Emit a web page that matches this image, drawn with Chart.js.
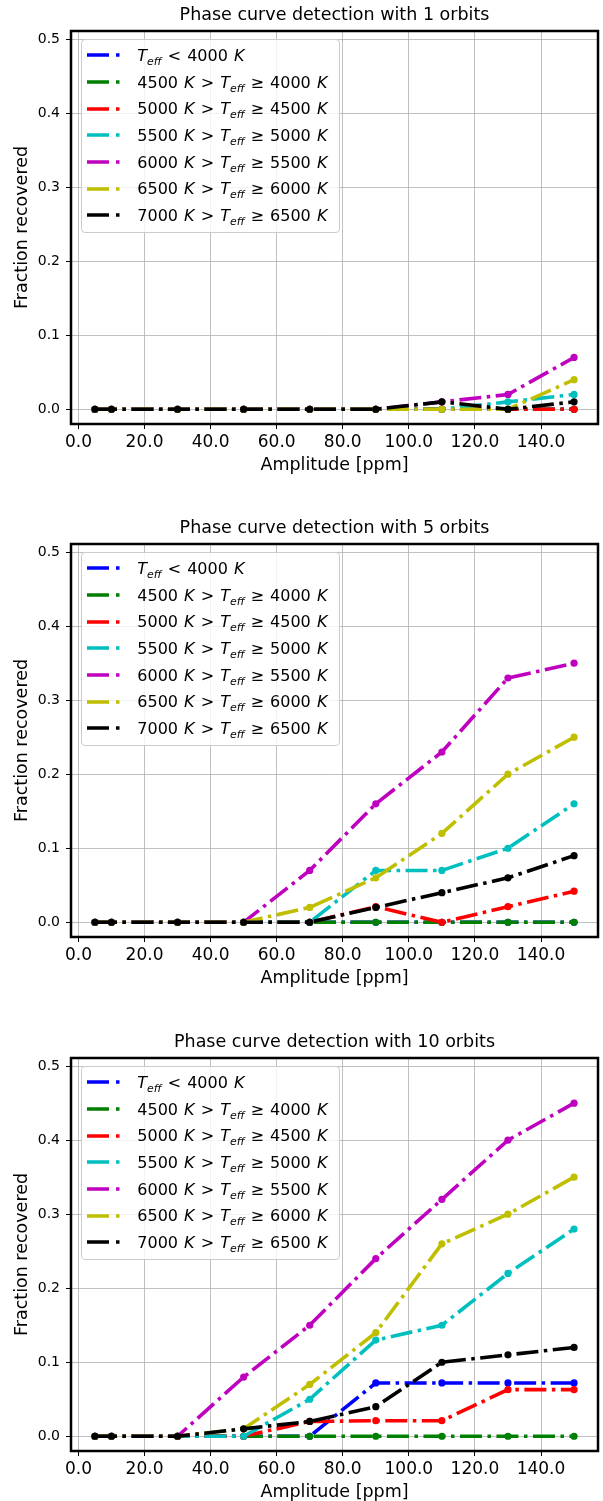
<!DOCTYPE html>
<html>
<head>
<meta charset="utf-8">
<script src="https://cdn.jsdelivr.net/npm/chart.js@4.4.0/dist/chart.umd.min.js"></script>
<style>
html,body{margin:0;padding:0;background:#fff;width:603px;height:1501px;overflow:hidden;font-family:"DejaVu Sans",sans-serif;}
.panel{position:absolute;left:0;width:603px;height:500px;}
.panel canvas{position:absolute;left:0;top:0;}
.legend{position:absolute;left:80.7px;top:39.4px;width:259.5px;height:193.3px;box-sizing:border-box;background:rgba(255,255,255,0.8);border:1px solid #cccccc;border-radius:4px;padding-top:1.7px;font-size:16px;color:#000;}
.row{height:26.67px;display:flex;align-items:center;white-space:nowrap;word-spacing:1px;}
.row svg{margin-left:5px;margin-right:16.6px;flex:none;}
.row sub{font-size:0.68em;vertical-align:-0.35em;line-height:0;}
</style>
</head>
<body>
<div id="root"></div>
<script>
// ---- data ----
const amplitudes = [5, 10, 30, 50, 70, 90, 110, 130, 150];
const xTickValues = [0, 20, 40, 60, 80, 100, 120, 140];
const xTickLabels = ["0.0", "20.0", "40.0", "60.0", "80.0", "100.0", "120.0", "140.0"];
const yTickValues = [0, 0.1, 0.2, 0.3, 0.4, 0.5];
const yTickLabels = ["0.0", "0.1", "0.2", "0.3", "0.4", "0.5"];
const teffUpper = [4000, 4500, 5000, 5500, 6000, 6500, 7000];
const teffLower = [null, 4000, 4500, 5000, 5500, 6000, 6500];
const seriesColors = ["#0000ff", "#008000", "#ff0000", "#00bfbf", "#bf00bf", "#bfbf00", "#000000"];
const orbitCounts = [1, 5, 10];

// 1 orbit
const orb1_lt4000    = [0, 0, 0, 0, 0, 0, 0,    0,    0];
const orb1_4000_4500 = [0, 0, 0, 0, 0, 0, 0,    0,    0];
const orb1_4500_5000 = [0, 0, 0, 0, 0, 0, 0,    0,    0];
const orb1_5000_5500 = [0, 0, 0, 0, 0, 0, 0,    0.01, 0.02];
const orb1_5500_6000 = [0, 0, 0, 0, 0, 0, 0.01, 0.02, 0.07];
const orb1_6000_6500 = [0, 0, 0, 0, 0, 0, 0,    0,    0.04];
const orb1_6500_7000 = [0, 0, 0, 0, 0, 0, 0.01, 0,    0.01];

// 5 orbits
const orb5_lt4000    = [0, 0, 0, 0, 0,    0,    0,    0,     0];
const orb5_4000_4500 = [0, 0, 0, 0, 0,    0,    0,    0,     0];
const orb5_4500_5000 = [0, 0, 0, 0, 0,    0.021, 0,   0.021, 0.042];
const orb5_5000_5500 = [0, 0, 0, 0, 0,    0.07, 0.07, 0.10,  0.16];
const orb5_5500_6000 = [0, 0, 0, 0, 0.07, 0.16, 0.23, 0.33,  0.35];
const orb5_6000_6500 = [0, 0, 0, 0, 0.02, 0.06, 0.12, 0.20,  0.25];
const orb5_6500_7000 = [0, 0, 0, 0, 0,    0.02, 0.04, 0.06,  0.09];

// 10 orbits
const orb10_lt4000    = [0, 0, 0, 0,    0,    0.072, 0.072, 0.072, 0.072];
const orb10_4000_4500 = [0, 0, 0, 0,    0,    0,     0,     0,     0];
const orb10_4500_5000 = [0, 0, 0, 0,    0.02, 0.021, 0.021, 0.063, 0.063];
const orb10_5000_5500 = [0, 0, 0, 0,    0.05, 0.13,  0.15,  0.22,  0.28];
const orb10_5500_6000 = [0, 0, 0, 0.08, 0.15, 0.24,  0.32,  0.40,  0.45];
const orb10_6000_6500 = [0, 0, 0, 0.01, 0.07, 0.14,  0.26,  0.30,  0.35];
const orb10_6500_7000 = [0, 0, 0, 0.01, 0.02, 0.04,  0.10,  0.11,  0.12];

const panelSeries = [
  [orb1_lt4000, orb1_4000_4500, orb1_4500_5000, orb1_5000_5500, orb1_5500_6000, orb1_6000_6500, orb1_6500_7000],
  [orb5_lt4000, orb5_4000_4500, orb5_4500_5000, orb5_5000_5500, orb5_5500_6000, orb5_6000_6500, orb5_6500_7000],
  [orb10_lt4000, orb10_4000_4500, orb10_4500_5000, orb10_5000_5500, orb10_5500_6000, orb10_6000_6500, orb10_6500_7000]
];
const panelTops = [0, 513, 1027];

// ---- helpers ----
function plainLabel(i) {
  return teffLower[i] === null
    ? "T_eff < " + teffUpper[i] + " K"
    : teffUpper[i] + " K > T_eff \u2265 " + teffLower[i] + " K";
}
function htmlLabel(i) {
  const T = '<i>T</i><sub><i>eff</i></sub>';
  return teffLower[i] === null
    ? T + ' &lt; ' + teffUpper[i] + ' <i>K</i>'
    : teffUpper[i] + ' <i>K</i> &gt; ' + T + ' \u2265 ' + teffLower[i] + ' <i>K</i>';
}

const framePlugin = {
  id: 'frame',
  afterDatasetsDraw(chart) {
    const {ctx, chartArea: a} = chart;
    ctx.save();
    ctx.strokeStyle = '#000';
    ctx.lineWidth = 2.5;
    ctx.strokeRect(a.left, a.top, a.right - a.left, a.bottom - a.top);
    ctx.restore();
  }
};

const FONT = "'DejaVu Sans', sans-serif";
const root = document.getElementById('root');

panelSeries.forEach((series, p) => {
  const panel = document.createElement('div');
  panel.className = 'panel';
  panel.style.top = panelTops[p] + 'px';
  const canvas = document.createElement('canvas');
  canvas.width = 603; canvas.height = 500;
  canvas.style.width = '603px'; canvas.style.height = '500px';
  panel.appendChild(canvas);

  const legend = document.createElement('div');
  legend.className = 'legend';
  series.forEach((_, i) => {
    const row = document.createElement('div');
    row.className = 'row';
    row.innerHTML = '<svg width="34" height="8"><line x1="0" y1="4" x2="34" y2="4" stroke="' + seriesColors[i] +
      '" stroke-width="3.5" stroke-dasharray="22 7 3.5 7"/></svg><span>' + htmlLabel(i) + '</span>';
    legend.appendChild(row);
  });
  panel.appendChild(legend);
  root.appendChild(panel);

  new Chart(canvas, {
    type: 'line',
    data: {
      datasets: series.map((vals, i) => ({
        label: plainLabel(i),
        data: amplitudes.map((x, j) => ({x: x, y: vals[j]})),
        borderColor: seriesColors[i],
        backgroundColor: seriesColors[i],
        pointBackgroundColor: seriesColors[i],
        pointBorderColor: seriesColors[i],
        pointBorderWidth: 0,
        pointRadius: 3.6,
        pointHoverRadius: 3.6,
        borderWidth: 3.6,
        borderDash: [22, 5.5, 3.5, 5.5],
        tension: 0,
        fill: false,
        order: series.length - i
      }))
    },
    options: {
      responsive: false,
      animation: false,
      devicePixelRatio: 1,
      events: [],
      layout: {padding: {left: 0, right: 5, top: 0, bottom: 0}},
      plugins: {
        legend: {display: false},
        tooltip: {enabled: false},
        title: {
          display: true,
          fullSize: false,
          text: 'Phase curve detection with ' + orbitCounts[p] + ' orbits',
          color: '#000',
          font: {family: FONT, size: 17.5, weight: 'normal', lineHeight: 1.2},
          padding: {top: 5, bottom: 5}
        }
      },
      scales: {
        x: {
          type: 'linear',
          min: -2.25, max: 157.25,
          afterFit(s) { s.height = 76; },
          afterBuildTicks(s) { s.ticks = xTickValues.map(v => ({value: v})); },
          ticks: {
            callback: (v, i) => xTickLabels[i],
            autoSkip: false, maxRotation: 0, minRotation: 0,
            color: '#000', padding: 3,
            font: {family: FONT, size: 17}
          },
          grid: {color: '#b0b0b0', lineWidth: 0.8, tickColor: '#000', tickLength: 5, tickWidth: 1},
          border: {display: false},
          title: {
            display: true, text: 'Amplitude [ppm]', color: '#000',
            font: {family: FONT, size: 17.5, lineHeight: 1.2},
            padding: {top: 0, bottom: 24.5}
          }
        },
        y: {
          type: 'linear',
          min: -0.0199, max: 0.511,
          afterFit(s) { s.width = 71; },
          afterBuildTicks(s) { s.ticks = yTickValues.map(v => ({value: v})); },
          ticks: {
            callback: (v, i) => yTickLabels[i],
            autoSkip: false,
            color: '#000', padding: 6,
            font: {family: FONT, size: 14}
          },
          grid: {color: '#b0b0b0', lineWidth: 0.8, tickColor: '#000', tickLength: 5, tickWidth: 1},
          border: {display: false},
          title: {
            display: true, text: 'Fraction recovered', color: '#000',
            font: {family: FONT, size: 17.5, lineHeight: 1.2},
            padding: {top: 11.5, bottom: 0}
          }
        }
      }
    },
    plugins: [framePlugin]
  });
});
</script>
</body>
</html>
